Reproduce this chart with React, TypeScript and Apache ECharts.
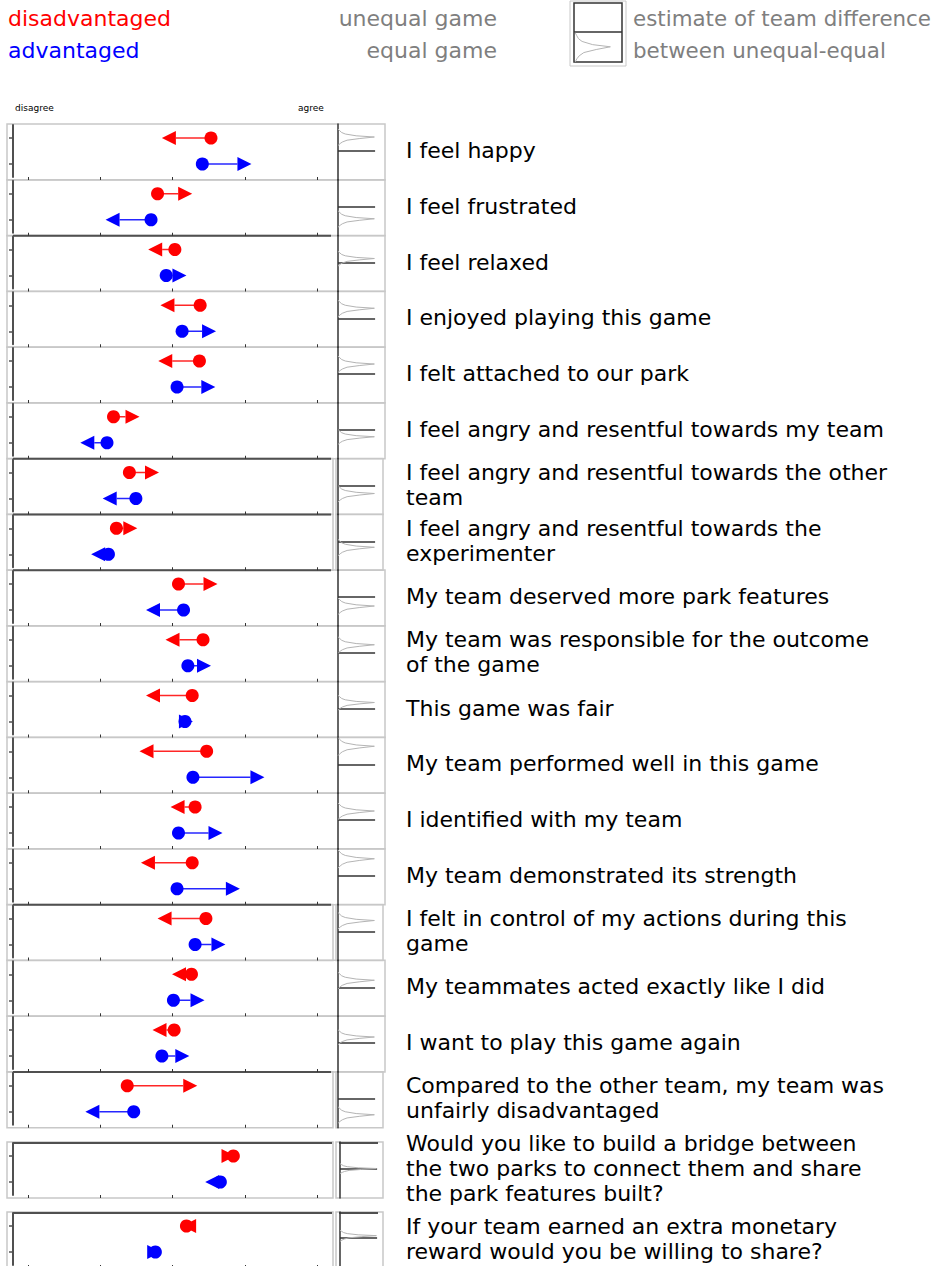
import React, { useEffect, useRef } from "react";
import * as echarts from "echarts";

// ---------------- data ----------------
const statements = [
  "I feel happy",
  "I feel frustrated",
  "I feel relaxed",
  "I enjoyed playing this game",
  "I felt attached to our park",
  "I feel angry and resentful towards my team",
  "I feel angry and resentful towards the other\nteam",
  "I feel angry and resentful towards the\nexperimenter",
  "My team deserved more park features",
  "My team was responsible for the outcome\nof the game",
  "This game was fair",
  "My team performed well in this game",
  "I identified with my team",
  "My team demonstrated its strength",
  "I felt in control of my actions during this\ngame",
  "My teammates acted exactly like I did",
  "I want to play this game again",
  "Compared to the other team, my team was\nunfairly disadvantaged",
  "Would you like to build a bridge between\nthe two parks to connect them and share\nthe park features built?",
  "If your team earned an extra monetary\nreward would you be willing to share?",
];

// disadvantaged team (red): equal game (dot) -> unequal game (arrow tip)
const disadvEqual = [3.53, 2.79, 3.03, 3.38, 3.37, 2.18, 2.4, 2.22, 3.08, 3.42, 3.27, 3.47, 3.31, 3.27, 3.46, 3.26, 3.02, 2.37, 3.84, 3.19];
const disadvUnequal = [2.85, 3.27, 2.66, 2.83, 2.8, 2.54, 2.81, 2.51, 3.62, 2.9, 2.63, 2.54, 2.97, 2.56, 2.79, 2.99, 2.72, 3.34, 3.87, 3.13];
// advantaged team (blue)
const advEqual = [3.41, 2.7, 2.91, 3.13, 3.06, 2.09, 2.49, 2.11, 3.15, 3.21, 3.17, 3.28, 3.08, 3.06, 3.31, 3.01, 2.85, 2.46, 3.66, 2.76];
const advUnequal = [4.09, 2.07, 3.19, 3.6, 3.59, 1.72, 2.03, 1.87, 2.63, 3.53, 3.28, 4.27, 3.69, 3.93, 3.73, 3.44, 3.23, 1.79, 3.45, 2.84];

// estimate of team difference (unequal-equal), centre of the density, and its spread
const diffEstimate = [1.4, -1.2, 0.4, 1.0, 1.0, -0.7, -0.8, -0.6, -0.9, 0.8, 0.6, 1.8, 0.9, 1.7, 1.1, 0.7, 0.6, -1.6, 0.05, 0.25];
const diffSpread = [1, 1, 0.9, 1, 1, 0.9, 1, 1, 1, 1, 0.9, 1.1, 1, 1.1, 1, 1, 0.9, 1, 0.6, 0.7];

const densityProfile = [
  [0.8, 0], [0.62, 0.05], [0.45, 0.1], [0.3, 0.2], [0.12, 0.5], [0, 1],
  [-0.15, 0.6], [-0.32, 0.25], [-0.5, 0.12], [-0.65, 0.06], [-0.85, 0],
];

const teams = ["advantaged", "disadvantaged"];
const scaleTicks = [1, 2, 3, 4, 5];

// ---------------- layout ----------------
const RED = "#ff0000";
const BLUE = "#0000ff";
const GREY_TEXT = "#7f7f7f";
const FRAME = "#c8c8c8";
const DARK = "#505050";
const FONT = "DejaVu Sans";

const rowTop = (i: number) => (i < 18 ? 125 + i * 55.75 : i === 18 ? 1143 : 1213);
const darkBottomRows = new Set([1, 5, 6, 7, 13, 16]);
const darkTopRows = new Set([18, 19]);
const splitFrameRows = new Set([6, 7, 14, 17, 18, 19]);

function arrowRenderer(color: string) {
  return (params: any, api: any) => {
    const eq = api.coord([api.value(0), api.value(2)]);
    const un = api.coord([api.value(1), api.value(2)]);
    const dir = un[0] >= eq[0] ? 1 : -1;
    const L = 14;
    const H = 7;
    const base = un[0] - dir * L;
    const children: any[] = [];
    if ((base - eq[0]) * dir > 0) {
      children.push({
        type: "line",
        shape: { x1: eq[0], y1: eq[1], x2: base, y2: eq[1] },
        style: { stroke: color, lineWidth: 1.5, opacity: 0.85 },
      });
    }
    children.push({
      type: "polygon",
      shape: { points: [[un[0], un[1]], [base, un[1] - H], [base, un[1] + H]] },
      style: { fill: color },
    });
    children.push({
      type: "circle",
      shape: { cx: eq[0], cy: eq[1], r: 6.5 },
      style: { fill: color },
    });
    return { type: "group", children };
  };
}

function buildOption() {
  const grid: any[] = [];
  const xAxis: any[] = [];
  const yAxis: any[] = [];
  const series: any[] = [];
  const graphic: any[] = [];

  const legendText = (text: string, x: number, y: number, fill: string, align = "left", size = 22) => ({
    type: "text",
    x,
    y,
    silent: true,
    style: { text, fill, fontFamily: FONT, fontSize: size, align, verticalAlign: "middle" },
  });
  graphic.push(legendText("disadvantaged", 8, 18, RED));
  graphic.push(legendText("advantaged", 8, 50, BLUE));
  graphic.push(legendText("unequal game", 497, 18, GREY_TEXT, "right"));
  graphic.push(legendText("equal game", 497, 50, GREY_TEXT, "right"));
  graphic.push(legendText("estimate of team difference", 633, 18, GREY_TEXT, "left", 21.4));
  graphic.push(legendText("between unequal-equal", 633, 50, GREY_TEXT, "left", 21.4));
  graphic.push(legendText("disagree", 15, 108, "#000", "left", 9));
  graphic.push(legendText("agree", 298, 108, "#000", "left", 9));
  graphic.push({ type: "rect", shape: { x: 570, y: 1, width: 56, height: 65 }, style: { fill: "none", stroke: FRAME, lineWidth: 1 }, silent: true });
  graphic.push({ type: "rect", shape: { x: 574, y: 3, width: 48, height: 59 }, style: { fill: "none", stroke: "#333", lineWidth: 1.5 }, silent: true });
  graphic.push({ type: "line", shape: { x1: 574, y1: 32, x2: 622, y2: 32 }, style: { stroke: "#333", lineWidth: 1.5 }, silent: true });

  // legend density icon
  const lgIdx = 0;
  grid.push({ left: 575, top: 33, width: 46, height: 29 });
  xAxis.push({ gridIndex: lgIdx, type: "value", min: 0, max: 1.3, show: false });
  yAxis.push({ gridIndex: lgIdx, type: "value", min: -1.1, max: 1.0, show: false });
  series.push({
    type: "line",
    xAxisIndex: lgIdx,
    yAxisIndex: lgIdx,
    data: densityProfile.map((p) => [p[1], p[0] * 1.3]),
    showSymbol: false,
    silent: true,
    lineStyle: { color: "#b4b4b4", width: 1 },
  });

  statements.forEach((label, i) => {
    const top = rowTop(i);
    if (splitFrameRows.has(i)) {
      graphic.push({ type: "rect", shape: { x: 7, y: top - 1, width: 326, height: 56 }, style: { fill: "none", stroke: FRAME, lineWidth: 1.5 }, silent: true, z: -1 });
      graphic.push({ type: "rect", shape: { x: 336, y: top - 1, width: 47, height: 56 }, style: { fill: "none", stroke: FRAME, lineWidth: 1.5 }, silent: true, z: -1 });
    } else {
      graphic.push({ type: "rect", shape: { x: 7, y: top - 1, width: 378, height: 56 }, style: { fill: "none", stroke: FRAME, lineWidth: 1.5 }, silent: true, z: -1 });
    }
    if (darkBottomRows.has(i)) {
      graphic.push({ type: "line", shape: { x1: 13, y1: top + 55, x2: 331, y2: top + 55 }, style: { stroke: DARK, lineWidth: 2 }, silent: true });
    }
    if (darkTopRows.has(i)) {
      graphic.push({ type: "line", shape: { x1: 13, y1: top, x2: 332, y2: top }, style: { stroke: DARK, lineWidth: 2 }, silent: true });
      graphic.push({ type: "line", shape: { x1: 339, y1: top, x2: 378, y2: top }, style: { stroke: DARK, lineWidth: 2 }, silent: true });
    }
    graphic.push({
      type: "text",
      x: 406,
      y: top + 25.5,
      silent: true,
      style: {
        text: label,
        fill: "#000",
        fontFamily: FONT,
        fontSize: 22,
        lineHeight: 25,
        align: "left",
        verticalAlign: "middle",
      },
    });

    // dot panel
    const g = grid.length;
    grid.push({ left: 13, top, width: 320, height: 52 });
    xAxis.push({
      gridIndex: g,
      type: "value",
      min: 0.788,
      max: 5.22,
      axisLine: { show: false, onZero: false },
      axisTick: { show: true, customValues: scaleTicks, length: 3, lineStyle: { color: "#333", width: 1 } },
      axisLabel: { show: false },
      splitLine: { show: false },
    });
    yAxis.push({
      gridIndex: g,
      type: "category",
      data: teams,
      axisLine: { show: true, onZero: false, lineStyle: { color: DARK, width: 2 } },
      axisTick: { show: true, alignWithLabel: true, length: 4, lineStyle: { color: DARK, width: 1.5 } },
      axisLabel: { show: false },
      splitLine: { show: false },
    });
    series.push({
      type: "custom",
      name: "disadvantaged",
      xAxisIndex: g,
      yAxisIndex: g,
      renderItem: arrowRenderer(RED),
      encode: { x: [0, 1], y: 2 },
      data: [[disadvEqual[i], disadvUnequal[i], 1]],
      silent: true,
    });
    series.push({
      type: "custom",
      name: "advantaged",
      xAxisIndex: g,
      yAxisIndex: g,
      renderItem: arrowRenderer(BLUE),
      encode: { x: [0, 1], y: 2 },
      data: [[advEqual[i], advUnequal[i], 0]],
      silent: true,
    });

    // density panel
    const d = grid.length;
    const dLeft = i >= 18 ? 340 : 338;
    grid.push({ left: dLeft, top: top - 1, width: 40, height: 56 });
    xAxis.push({ gridIndex: d, type: "value", min: 0, max: 1.1, show: false });
    yAxis.push({
      gridIndex: d,
      type: "value",
      min: -2.9,
      max: 2.7,
      axisLine: { show: true, onZero: false, lineStyle: { color: "#333", width: 1.5 } },
      axisTick: { show: false },
      axisLabel: { show: false },
      splitLine: { show: false },
    });
    series.push({
      type: "line",
      xAxisIndex: d,
      yAxisIndex: d,
      data: densityProfile.map((p) => [p[1], diffEstimate[i] + p[0] * diffSpread[i]]),
      showSymbol: false,
      silent: true,
      lineStyle: { color: "#b4b4b4", width: 1 },
      z: 3,
      markLine: {
        silent: true,
        symbol: ["none", "none"],
        label: { show: false },
        lineStyle: { color: "#333", width: 1.5, type: "solid" },
        data: [[{ coord: [0, 0] }, { coord: [1.02, 0] }]],
        z: 2,
      },
    });
  });

  return {
    animation: false,
    backgroundColor: "#ffffff",
    grid,
    xAxis,
    yAxis,
    series,
    graphic,
  };
}

export default function App() {
  const ref = useRef<HTMLDivElement>(null);
  useEffect(() => {
    if (!ref.current) return;
    const chart = echarts.init(ref.current, undefined, { renderer: "svg" });
    chart.setOption(buildOption() as any);
    return () => chart.dispose();
  }, []);
  return (
    <div
      ref={ref}
      style={{ position: "fixed", left: 0, top: 0, width: 937, height: 1266, background: "#fff" }}
    />
  );
}
